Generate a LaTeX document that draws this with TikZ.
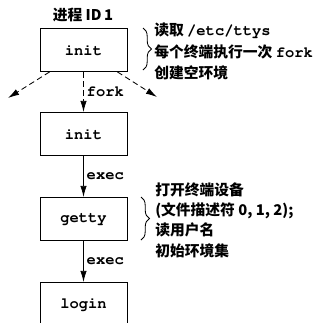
\documentclass[tikz,border=0pt]{standalone}
\usepackage[T1]{fontenc}
\usepackage{fontspec}
\newfontfamily\cjk{Noto Sans CJK SC}
\usetikzlibrary{arrows.meta,decorations.pathreplacing}

\newcommand{\cour}{\fontencoding{T1}\fontfamily{pcr}\fontseries{b}\fontsize{11}{15}\selectfont}
\newcommand{\mono}[1]{{\cour #1}}

\begin{document}
\begin{tikzpicture}
    \tikzstyle{proc}=[
      draw=black,
      semithick,
      minimum width=2.175cm,
      minimum height=1.075cm,
      font=\cour,
    ]
    \tikzstyle{dedge} = [semithick,-{Latex[length=2.8mm,width=1.6mm]},draw=black]
    \tikzstyle{fedge} = [dedge,dash pattern=on 4pt off 2.5pt]
    \tikzstyle{lbl}=[font=\cour,inner sep=2pt]
    \tikzstyle{note}=[
      align=left,
      anchor=west,
      inner sep=0pt,
      font=\cjk\bfseries\fontsize{10.5}{15.2}\selectfont,
    ]
    \tikzset{brc/.style={draw=black,semithick,decorate,decoration={brace,amplitude=6pt}}}

    % braces
    \draw[brc] (3.575,-0.7)--(3.575,-1.75);
    \draw[brc] (3.525,-4.925)--(3.525,-6.0);

    \clip (0,0) rectangle (8.025,-8.075);

    {
      \node[note,anchor=center] (pid) at (2.075,-0.375) {进程 ID\,1};

      \node[proc] (init1) at (2.0875,-1.25) {init};
      \node[proc] (init2) at (2.0875,-3.35) {init};
      \node[proc] (getty) at (2.0875,-5.475) {getty};
      \node[proc] (login) at (2.0875,-7.6) {login};

      \coordinate (kidl) at (0.2,-2.45);
      \coordinate (kidr) at (3.925,-2.425);
    }

    {
      \draw[fedge] ([xshift=0.25cm]init1.south west)--(kidl);
      \draw[fedge] ([xshift=-0.25cm]init1.south east)--(kidr);
      \draw[fedge] (init1)--(init2) node[lbl,midway,right] {fork};
      \draw[dedge] (init2)--(getty) node[lbl,midway,right] {exec};
      \draw[dedge] (getty)--(login) node[lbl,midway,right] {exec};
    }

    {
      \node[note] (todo1) at (3.85,-1.29)
        {读取 \mono{/etc/ttys}\\每个终端执行一次 \mono{fork}\\创建空环境};
      \node[note,font=\cjk\bfseries\fontsize{10.5}{14.5}\selectfont] (todo2) at (3.875,-5.5)
        {打开终端设备\\(文件描述符 0, 1, 2);\\读用户名\\初始环境集};
    }
\end{tikzpicture}
\end{document}
